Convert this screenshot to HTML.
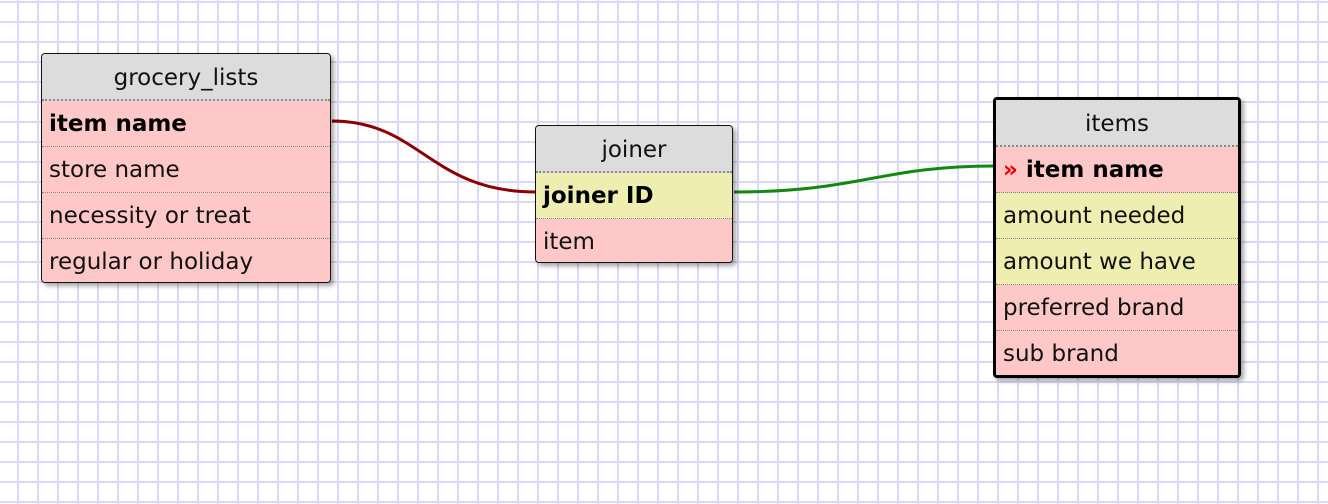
<!DOCTYPE html>
<html><head><style>
body{margin:0;width:1328px;height:504px;overflow:hidden;background-color:#fff;
background-image:linear-gradient(to right,#dcd9f4 2px,transparent 2px),linear-gradient(to bottom,#dcd9f4 2px,transparent 2px);
background-size:20px 20px;background-position:17px 1px;position:relative;font-family:"DejaVu Sans","Liberation Sans",sans-serif;}
.t{position:absolute;border:1.5px solid #111;border-radius:4px;box-shadow:3px 3px 5px rgba(0,0,0,.35);overflow:hidden;background:#ffc8c8}
.t.b{border:3px solid #000}
.h{height:45px;background:#dcdcdc;text-align:center;font-size:23px;line-height:48px;color:#111;border-bottom:2px dotted #888}
.r{height:45px;line-height:46px;font-size:23px;padding-left:7px;color:#111;border-bottom:1.5px dotted #888;white-space:nowrap}
.r:last-child{border-bottom:none}
.y{background:#eeeeb0}.p{background:#ffc8c8}
.bo{font-weight:bold;color:#000}
</style></head><body>
<svg width="1328" height="504" style="position:absolute;left:0;top:0">
<path d="M332 121 C 420 121, 430 192, 536 192" stroke="#8b0000" stroke-width="3" fill="none"/>
<path d="M734 192 C 860 192, 880 166, 994 166" stroke="#118811" stroke-width="3" fill="none"/>
</svg>
<div class="t" style="left:41px;top:53px;width:288px;height:228px">
<div class="h">grocery_lists</div>
<div class="r p bo">item name</div>
<div class="r p">store name</div>
<div class="r p">necessity or treat</div>
<div class="r p">regular or holiday</div>
</div>
<div class="t" style="left:535px;top:125px;width:196px;height:136px">
<div class="h">joiner</div>
<div class="r y bo">joiner ID</div>
<div class="r p">item</div>
</div>
<div class="t b" style="left:993px;top:97px;width:242px;height:275px">
<div class="h">items</div>
<div class="r p bo"><span style="color:#e00">»</span> item name</div>
<div class="r y">amount needed</div>
<div class="r y">amount we have</div>
<div class="r p">preferred brand</div>
<div class="r p">sub brand</div>
</div>
</body></html>
